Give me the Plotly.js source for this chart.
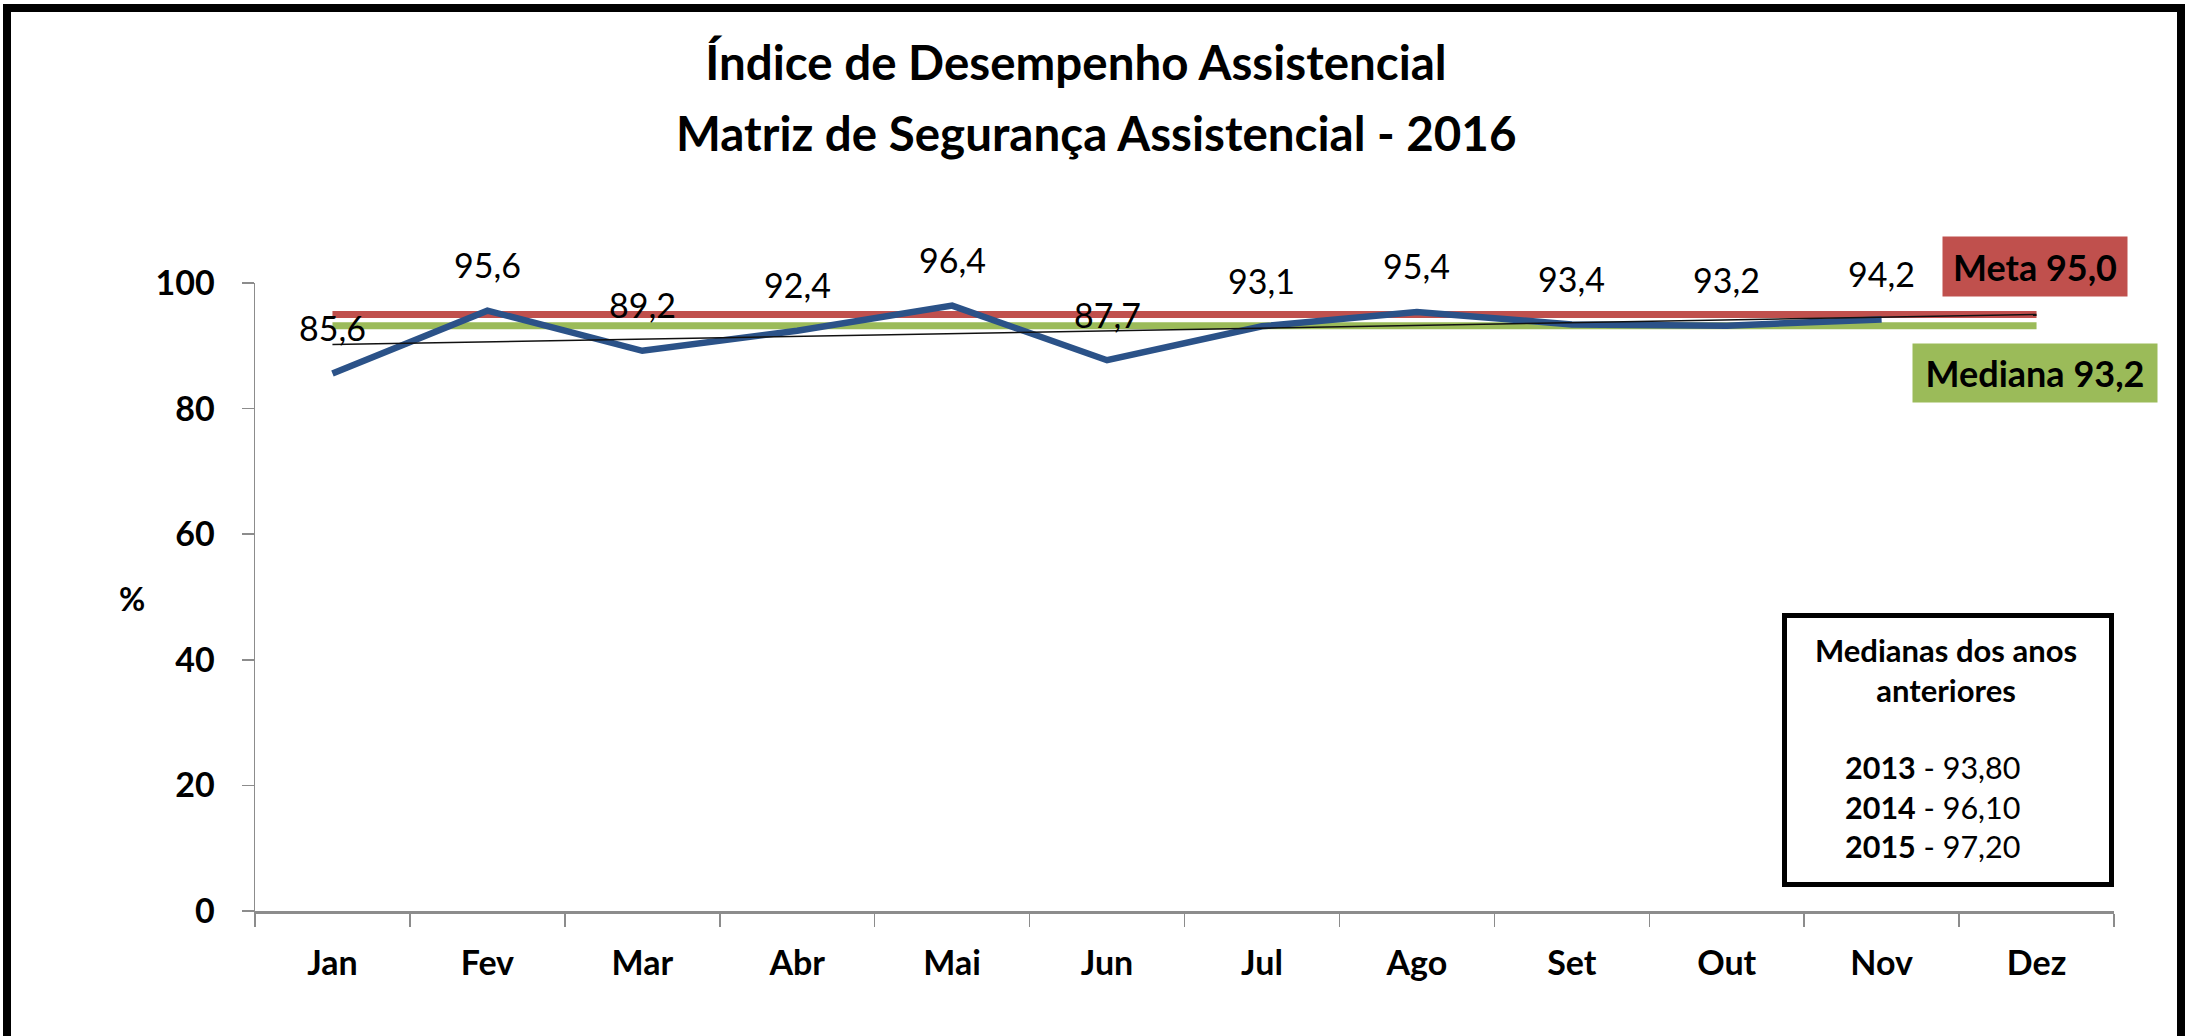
<!DOCTYPE html>
<html>
<head>
<meta charset="utf-8">
<script src="https://cdn.plot.ly/plotly-3.0.1.min.js"></script>
<style>
  html, body { margin: 0; padding: 0; background: #ffffff; }
  #wrap { position: relative; width: 2185px; height: 1036px; overflow: hidden; }
  #chart { width: 2185px; height: 1036px; }
  #frame { position: absolute; left: 3px; top: 4px; width: 2166px; height: 1100px;
           border: 8px solid #000; pointer-events: none; }
</style>
</head>
<body>
<div id="wrap">
  <div id="chart"></div>
  <div id="frame"></div>
</div>
<script>
// ---- data ----
const months = ['Jan','Fev','Mar','Abr','Mai','Jun','Jul','Ago','Set','Out','Nov','Dez'];
const values = [85.6, 95.6, 89.2, 92.4, 96.4, 87.7, 93.1, 95.4, 93.4, 93.2, 94.2, null];
const meta = 95.0;
const mediana = 93.2;
const trendMonths = ['Jan', 'Dez'];
const trendValues = [90.2, 95.0];
const yTicks = [0, 20, 40, 60, 80, 100];
const titleLine1 = 'Índice de Desempenho Assistencial';
const titleLine2 = 'Matriz de Segurança Assistencial - 2016';
const boxHeader = ['Medianas dos anos', 'anteriores'];
const prevYears = ['2013', '2014', '2015'];
const prevMedians = [93.80, 96.10, 97.20];

// ---- helpers ----
const W = 2185, H = 1036, L = 255, R = 71, T = 283, B = 125;
const pw = W - L - R, ph = H - T - B;
const px2x = px => (px - L) / pw;
const py2y = py => (H - B - py) / ph;
const fmt = (v, d) => v.toFixed(d).replace('.', ',');
const FONT = 'Lato, "Open Sans", sans-serif';

const traces = [
  { x: months.slice(0, 1).concat(months.slice(-1)), y: [meta, meta], mode: 'lines',
    line: { color: '#C0504D', width: 7 }, hoverinfo: 'skip', name: 'Meta' },
  { x: months.slice(0, 1).concat(months.slice(-1)), y: [mediana, mediana], mode: 'lines',
    line: { color: '#9BBB59', width: 7 }, hoverinfo: 'skip', name: 'Mediana' },
  { x: months, y: values, mode: 'lines', line: { color: '#2B5288', width: 6.5 },
    connectgaps: false, name: 'Índice' },
  { x: trendMonths, y: trendValues, mode: 'lines', line: { color: '#111111', width: 1.5 },
    hoverinfo: 'skip', name: 'Tendência' }
];

const annotations = [];
// data labels
months.forEach((m, i) => {
  if (values[i] === null) return;
  annotations.push({ x: m, y: values[i], xref: 'x', yref: 'y', text: fmt(values[i], 1),
    showarrow: false, yshift: 46, xanchor: 'center', yanchor: 'middle',
    font: { family: FONT, size: 34, color: '#000' } });
});
// title line 2
annotations.push({ xref: 'paper', yref: 'paper', x: px2x(1096), y: py2y(133), text: titleLine2,
  showarrow: false, xanchor: 'center', yanchor: 'middle',
  font: { family: FONT, size: 47.5, color: '#000', weight: 'bold' } });
// y axis title "%"
annotations.push({ xref: 'paper', yref: 'paper', x: px2x(132), y: py2y(598), text: '%',
  showarrow: false, xanchor: 'center', yanchor: 'middle',
  font: { family: FONT, size: 32, color: '#000', weight: 'bold' } });
// Meta box
annotations.push({ xref: 'paper', yref: 'paper', x: px2x(2035), y: py2y(266.5),
  text: 'Meta ' + fmt(meta, 1), showarrow: false, xanchor: 'center', yanchor: 'middle',
  width: 184, height: 59, borderpad: 0, bgcolor: '#C0504D',
  font: { family: FONT, size: 36, color: '#000', weight: 'bold' } });
// Mediana box
annotations.push({ xref: 'paper', yref: 'paper', x: px2x(2035), y: py2y(373),
  text: 'Mediana ' + fmt(mediana, 1), showarrow: false, xanchor: 'center', yanchor: 'middle',
  width: 244, height: 58, borderpad: 0, bgcolor: '#9BBB59',
  font: { family: FONT, size: 36, color: '#000', weight: 'bold' } });
// Medianas box text
const boxCx = 1946;
annotations.push({ xref: 'paper', yref: 'paper', x: px2x(boxCx), y: py2y(670),
  text: boxHeader.join('<br>'), showarrow: false, xanchor: 'center', yanchor: 'middle',
  align: 'center', font: { family: FONT, size: 31, color: '#000', weight: 'bold' } });
annotations.push({ xref: 'paper', yref: 'paper', x: px2x(1932), y: py2y(806),
  text: prevYears.map((yr, i) => '<b>' + yr + '</b> - ' + fmt(prevMedians[i], 2)).join('<br>'),
  showarrow: false, xanchor: 'center', yanchor: 'middle', align: 'center',
  font: { family: FONT, size: 30.5, color: '#000' } });

const layout = {
  width: W, height: H,
  margin: { l: L, r: R, t: T, b: B, pad: 0 },
  paper_bgcolor: '#ffffff', plot_bgcolor: '#ffffff',
  showlegend: false,
  font: { family: FONT, color: '#000' },
  title: { text: titleLine1, xref: 'container', yref: 'container',
    x: 1076 / W, xanchor: 'center', y: 1 - 63 / H, yanchor: 'middle',
    font: { family: FONT, size: 47.5, color: '#000', weight: 'bold' } },
  xaxis: {
    type: 'category', categoryorder: 'array', categoryarray: months,
    range: [-0.5, 11.5], tickson: 'boundaries', ticks: 'outside', ticklen: 13,
    tickwidth: 1.5, tickcolor: '#8c8c8c', showline: true, linecolor: '#8c8c8c', linewidth: 3,
    showgrid: false, zeroline: false, ticklabelstandoff: 20,
    tickfont: { family: FONT, size: 34, color: '#000', weight: 'bold' }
  },
  yaxis: {
    range: [0, 100], tickvals: yTicks, ticktext: yTicks.map(String), ticks: 'outside', ticklen: 12,
    tickwidth: 1.5, tickcolor: '#8c8c8c', showline: true, linecolor: '#8c8c8c', linewidth: 1.5,
    showgrid: false, zeroline: false, ticklabelstandoff: 20,
    tickfont: { family: FONT, size: 34, color: '#000', weight: 'bold' }
  },
  shapes: [
    { type: 'rect', xref: 'paper', yref: 'paper', x0: px2x(1784.5), x1: px2x(2111.5),
      y0: py2y(884.5), y1: py2y(615.5), line: { color: '#000', width: 5 }, fillcolor: '#ffffff',
      layer: 'below' }
  ],
  annotations: annotations
};

Plotly.newPlot('chart', traces, layout, { displayModeBar: false, staticPlot: true });
</script>
</body>
</html>
